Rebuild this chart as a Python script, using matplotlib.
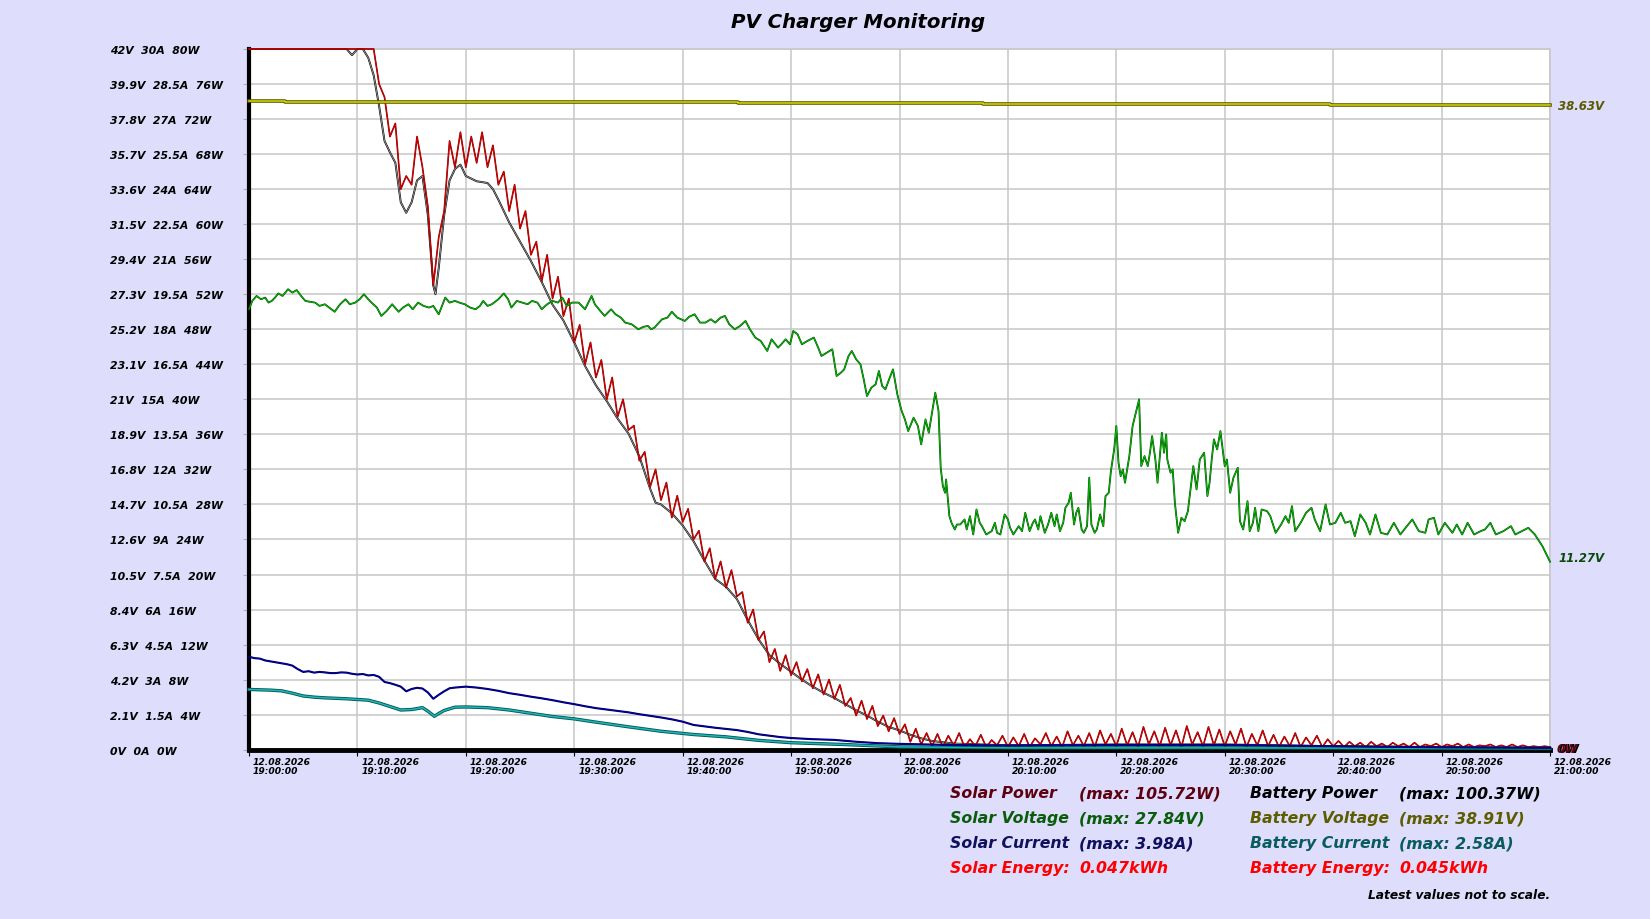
import numpy as np
import matplotlib
matplotlib.use("Agg")
import matplotlib.pyplot as plt
import matplotlib.patheffects as pe
from matplotlib.transforms import ScaledTranslation

BG = "#dedefc"

# ---- data, minutes after 19:00 ----
t_spow = np.arange(0, 120.5, 0.5)
solar_power = [
    80, 80, 80, 80, 80, 80, 80, 80, 80, 80,
    80, 80, 80, 80, 80, 80, 80, 80, 80, 80,
    80, 80, 80, 80, 76, 74.5, 70, 71.5, 64, 65.5,
    64.5, 70, 66.5, 62, 53, 58.5, 61.5, 69.5, 66.5, 70.5,
    66.5, 70, 67, 70.5, 66.5, 69, 64.5, 66, 61.5, 64.5,
    59.5, 61.5, 56.5, 58, 53.5, 56.5, 51.5, 54, 49.5, 51.5,
    46.5, 48.5, 44, 46.5, 42.5, 44.5, 40, 42.5, 38, 40,
    36.5, 37, 33, 34, 30, 32, 28.5, 30.5, 26.5, 29,
    26, 27.5, 24, 25, 21.5, 23, 19.5, 21.5, 18.5, 20.5,
    17.5, 18, 14.5, 16, 12.5, 13.5, 10, 11.5, 9, 10.8,
    8.5, 10, 7.8, 9.2, 7, 8.6, 6.3, 8, 5.8, 7.4,
    5, 5.9, 3.9, 5.6, 3.5, 5, 2.7, 3.9, 2.1, 3.6,
    1.8, 2.9, 0.9, 2.4, 0.6, 1.9, 0.4, 1.8, 0.3, 1.6,
    0.5, 1.9, 0.3, 1.2, 0.4, 1.7, 0.3, 1.1, 0.5, 1.6,
    0.3, 1.4, 0.4, 1.8, 0.3, 1.3, 0.6, 1.9, 0.4, 1.5,
    0.3, 2.1, 0.5, 1.6, 0.4, 1.9, 0.3, 2.2, 0.6, 1.8,
    0.4, 2.4, 0.5, 2.0, 0.3, 2.6, 0.6, 2.1, 0.4, 2.5,
    0.5, 2.2, 0.3, 2.7, 0.6, 2.0, 0.4, 2.6, 0.5, 2.3,
    0.4, 2.1, 0.6, 2.4, 0.3, 1.8, 0.5, 2.2, 0.4, 1.7,
    0.3, 1.5, 0.4, 1.9, 0.3, 1.4, 0.5, 1.6, 0.3, 1.2,
    0.4, 1.0, 0.3, 0.9, 0.4, 0.8, 0.3, 0.9, 0.4, 0.7,
    0.3, 0.8, 0.4, 0.7, 0.3, 0.8, 0.3, 0.6, 0.4, 0.7,
    0.3, 0.6, 0.4, 0.7, 0.3, 0.6, 0.3, 0.5, 0.4, 0.6,
    0.3, 0.5, 0.3, 0.6, 0.3, 0.5, 0.3, 0.4, 0.3, 0.4,
    0.3,
]

t_bpow = [0, 9, 9.5, 10, 10.5, 11, 11.5, 12, 12.5, 13, 13.5, 14, 14.5, 15, 15.5,
          16, 16.5, 17, 17.2, 17.5, 18, 18.5, 19, 19.5, 20, 21, 22, 22.5, 23, 24,
          25, 26, 27, 28, 29, 30, 31, 32, 33, 34, 35, 36, 37, 37.5, 38, 39, 40,
          41, 42, 43, 44, 45, 46, 47, 48, 49, 50, 51, 52, 53, 54, 55, 56, 57, 58,
          59, 60, 61, 62, 63, 65, 70, 80, 90, 100, 110, 120]
battery_power = [80, 80, 79.3, 80, 80, 79, 77, 73.5, 69.5, 68.2, 67, 62.5, 61.3, 62.5, 65,
                 65.5, 61, 53, 52, 55, 61, 65, 66.3, 66.8, 65.5, 64.9, 64.7, 64, 62.8, 60.2,
                 58, 55.8, 53.4, 50.8, 49, 46.5, 43.8, 41.6, 39.8, 37.8, 36.1, 33.5, 29.8, 28.2, 28, 27, 25.6,
                 23.8, 21.6, 19.5, 18.6, 17.2, 14.8, 12.6, 10.8, 9.8, 8.9, 8.0, 7.2, 6.5, 5.9, 5.2, 4.5, 3.9, 3.2,
                 2.6, 2.2, 1.7, 1.3, 1.0, 0.7, 0.5, 0.6, 0.6, 0.4, 0.3, 0.2]

t_svolt = [0, 0.3, 0.7, 1.1, 1.5, 1.8, 2.1, 2.4, 2.7, 3.1, 3.6, 4.0, 4.4, 4.8, 5.2, 5.6, 6.1, 6.5,
           7.0, 7.4, 7.9, 8.4, 8.9, 9.3, 9.8, 10.2, 10.6, 11.0, 11.3, 11.8, 12.2, 12.7, 13.2, 13.8,
           14.2, 14.7, 15.1, 15.6, 16.1, 16.6, 17.0, 17.5, 18.1, 18.5, 19.0, 19.4, 19.9, 20.4, 20.9,
           21.3, 21.6, 22.0, 22.4, 23.0, 23.5, 23.9, 24.2, 24.7, 25.2, 25.7, 26.1, 26.6, 27.0, 27.5,
           28.0, 28.5, 28.9, 29.3, 29.8, 30.4, 31.0, 31.6, 31.9, 32.4, 32.8, 33.4, 33.8, 34.3, 34.7,
           35.3, 35.9, 36.4, 36.8, 37.1, 37.4, 38.1, 38.6, 39.0, 39.5, 40.2, 40.6, 41.1, 41.6, 42.1,
           42.6, 43.0, 43.5, 43.9, 44.3, 44.8, 45.3, 45.8, 46.2, 46.7, 47.2, 47.8, 48.2, 48.8, 49.1,
           49.5, 49.9, 50.2, 50.6, 51.0, 51.5, 52.1, 52.5, 52.8, 53.3, 53.8, 54.2, 54.6, 54.9, 55.3,
           55.6, 56.0, 56.4, 56.7, 57.0, 57.4, 57.8, 58.1, 58.4, 58.7, 59.1, 59.4, 59.8, 60.2, 60.5,
           60.8, 61.3, 61.7, 62.0, 62.4, 62.7, 63.0, 63.3, 63.6, 63.8, 64.0, 64.2, 64.3, 64.6, 64.8,
           65.1, 65.3, 65.6, 66.0, 66.2, 66.5, 66.8, 67.1, 67.4, 67.6, 68.0, 68.5, 68.8, 69.0, 69.3,
           69.7, 70.0, 70.2, 70.5, 71.0, 71.3, 71.6, 72.0, 72.3, 72.5, 72.8, 73.0, 73.4, 73.7, 74.0,
           74.3, 74.5, 74.8, 75.1, 75.3, 75.6, 75.8, 76.1, 76.3, 76.5, 76.8, 77.0, 77.3, 77.5, 77.7,
           78.0, 78.2, 78.5, 78.8, 79.0, 79.3, 79.5, 79.8, 80.0, 80.2, 80.4, 80.6, 80.8, 81.2, 81.5,
           81.8, 82.1, 82.3, 82.6, 82.9, 83.1, 83.3, 83.6, 83.8, 84.0, 84.2, 84.4, 84.6, 84.7, 85.0,
           85.2, 85.4, 85.7, 86.0, 86.3, 86.6, 86.8, 87.1, 87.4, 87.7, 88.1, 88.4, 88.6, 88.8, 89.0,
           89.3, 89.6, 90.0, 90.2, 90.5, 90.8, 91.0, 91.2, 91.4, 91.7, 92.1, 92.3, 92.6, 92.8, 93.1,
           93.4, 93.9, 94.2, 94.7, 95.2, 95.6, 95.9, 96.2, 96.5, 97.0, 97.5, 98.0, 98.3, 98.8, 99.3,
           99.7, 100.2, 100.7, 101.1, 101.6, 102.0, 102.5, 103.0, 103.4, 103.9, 104.4, 105.0, 105.6,
           106.2, 106.8, 107.3, 107.9, 108.5, 108.8, 109.3, 109.7, 110.3, 111.0, 111.4, 111.9, 112.4,
           113.0, 113.6, 114.0, 114.5, 115.0, 115.7, 116.4, 116.8, 117.4, 118.0, 118.6, 119.3, 120.0]
solar_voltage = [26.4, 26.9, 27.2, 27.0, 27.1, 26.8, 26.9, 27.1, 27.35, 27.2, 27.6, 27.4, 27.55, 27.2, 26.9, 26.85, 26.8, 26.6,
                 26.7, 26.5, 26.25, 26.7, 27.0, 26.7, 26.8, 27.0, 27.3, 27.0, 26.8, 26.5, 26.0, 26.3, 26.7, 26.25,
                 26.5, 26.7, 26.4, 26.8, 26.6, 26.5, 26.6, 26.1, 27.1, 26.8, 26.9, 26.8, 26.7, 26.5, 26.4,
                 26.6, 26.9, 26.6, 26.7, 27.0, 27.35, 27.0, 26.5, 26.9, 26.8, 26.7, 26.9, 26.8, 26.4, 26.7,
                 26.9, 26.8, 27.1, 26.6, 26.8, 26.8, 26.4, 27.2, 26.7, 26.3, 26.0, 26.4, 26.1, 25.9, 25.6,
                 25.5, 25.2, 25.35, 25.4, 25.2, 25.3, 25.8, 25.9, 26.25, 25.9, 25.7, 25.95, 26.1, 25.6, 25.6,
                 25.8, 25.6, 25.9, 26.0, 25.5, 25.2, 25.4, 25.7, 25.2, 24.7, 24.5, 23.9, 24.6, 24.1, 24.3,
                 24.6, 24.3, 25.1, 24.9, 24.3, 24.5, 24.7, 24.1, 23.6, 23.8, 24.0, 22.4, 22.6, 22.8, 23.6,
                 23.9, 23.4, 23.1, 22.2, 21.2, 21.7, 21.9, 22.7, 21.8, 21.6, 22.3, 22.8, 21.3, 20.3, 19.8,
                 19.1, 19.9, 19.4, 18.3, 19.8, 19.0, 20.2, 21.4, 20.3, 16.9, 15.8, 15.4, 16.2, 14.0, 13.6,
                 13.2, 13.5, 13.5, 13.8, 13.2, 14.0, 12.9, 14.4, 13.6, 13.4, 12.9, 13.1, 13.6, 13.0, 12.9,
                 14.1, 13.8, 13.3, 12.9, 13.4, 13.1, 14.2, 13.1, 13.6, 13.8, 13.2, 14.0, 13.0, 13.5, 14.2,
                 13.4, 14.1, 13.1, 13.6, 14.5, 14.8, 15.4, 13.5, 14.2, 14.5, 13.2, 13.0, 13.4, 16.3, 13.5,
                 13.0, 13.2, 14.1, 13.4, 15.2, 15.4, 16.7, 18.0, 19.4, 17.2, 16.4, 16.8, 16.0, 17.6, 19.4,
                 20.2, 21.0, 17.0, 17.6, 17.0, 17.8, 18.8, 17.4, 16.0, 17.5, 19.0, 17.8, 18.9, 17.4, 16.6,
                 16.8, 14.8, 13.0, 13.9, 13.7, 14.3, 15.4, 17.0, 15.6, 17.4, 17.8, 15.2, 16.0, 17.4, 18.6,
                 18.0, 19.1, 17.0, 17.4, 15.4, 16.3, 16.6, 16.9, 13.7, 13.2, 14.9, 13.1, 13.6, 14.5, 13.1,
                 14.4, 14.3, 14.0, 13.0, 13.5, 14.0, 13.6, 14.6, 13.1, 13.6, 14.2, 14.5, 13.8, 13.1, 14.7,
                 13.5, 13.6, 14.2, 13.6, 13.7, 12.8, 14.1, 13.6, 12.9, 14.1, 13.0, 12.9, 13.6,
                 12.9, 13.4, 13.8, 13.1, 13.0, 13.8, 13.9, 12.9, 13.6, 13.0, 13.5, 12.9, 13.6,
                 12.9, 13.1, 13.2, 13.6, 12.9, 13.1, 13.4, 12.9, 13.1, 13.3, 12.9, 12.2, 11.27]

t_bvolt = [0, 3.3, 27.4, 45.1, 67.7, 99.7, 120]
battery_voltage = [38.91, 38.85, 38.80, 38.76, 38.70, 38.63, 38.63]

t_scur = [0, 0.5, 1, 1.5, 2, 2.5, 3, 3.5, 4, 4.5, 5, 5.5, 6, 6.5, 7, 7.5, 8, 8.5, 9, 9.5, 10, 10.5,
          11, 11.5, 12, 12.5, 13, 13.5, 14, 14.5, 15, 15.5, 16, 16.5, 17, 17.5, 18, 18.5, 19, 19.5,
          20, 21, 22, 23, 24, 25, 26, 27, 28, 29, 30, 31,
          32, 33, 34, 35, 36, 37, 38, 39, 40, 41, 42, 43, 44, 45, 46, 47, 48, 49, 50, 52, 54,
          56, 58, 60, 65, 70, 80, 90, 100, 110, 120]
solar_current = [3.98, 3.92, 3.9, 3.82, 3.78, 3.74, 3.7, 3.66, 3.6, 3.45, 3.33, 3.36, 3.3, 3.33, 3.31, 3.28, 3.28, 3.31, 3.3, 3.25, 3.22, 3.24,
                 3.18, 3.2, 3.12, 2.9, 2.85, 2.78, 2.7, 2.5, 2.6, 2.65,
                 2.62, 2.45, 2.18, 2.35, 2.5, 2.63, 2.66, 2.68,
                 2.7, 2.66, 2.6, 2.52, 2.42, 2.35, 2.27, 2.2, 2.12, 2.03, 1.95, 1.86,
                 1.78, 1.72, 1.66, 1.6, 1.52, 1.45, 1.38, 1.3, 1.2, 1.06, 1.0, 0.94, 0.89, 0.84, 0.76, 0.66, 0.6, 0.54, 0.5, 0.45, 0.42,
                 0.34, 0.28, 0.25, 0.2, 0.18, 0.2, 0.2, 0.15, 0.1, 0.08]

t_bcur = [0, 2, 3, 4, 5, 6, 7, 9, 11, 12, 13, 14, 15, 16, 16.5, 17.1, 17.5, 18, 19, 20, 22, 24,
          26, 28, 30, 32, 35, 38, 41, 44, 47, 50, 55, 60, 70, 90, 120]
battery_current = [2.58, 2.55, 2.52, 2.42, 2.3, 2.25, 2.22, 2.18, 2.12, 2.0, 1.85, 1.7, 1.72, 1.8, 1.65, 1.43, 1.55, 1.68, 1.82, 1.83, 1.8, 1.7,
                   1.56, 1.42, 1.32, 1.18, 0.98, 0.79, 0.65, 0.55, 0.4, 0.3, 0.22, 0.12, 0.08, 0.08, 0.05]

# axis ticks
watt_ticks = [0, 4, 8, 12, 16, 20, 24, 28, 32, 36, 40, 44, 48, 52, 56, 60, 64, 68, 72, 76, 80]
volt_ticks = [0, 2.1, 4.2, 6.3, 8.4, 10.5, 12.6, 14.7, 16.8, 18.9, 21, 23.1, 25.2, 27.3, 29.4, 31.5, 33.6, 35.7, 37.8, 39.9, 42]
amp_ticks = [0, 1.5, 3, 4.5, 6, 7.5, 9, 10.5, 12, 13.5, 15, 16.5, 18, 19.5, 21, 22.5, 24, 25.5, 27, 28.5, 30]
time_ticks = [0, 10, 20, 30, 40, 50, 60, 70, 80, 90, 100, 110, 120]
time_labels = ["19:00:00", "19:10:00", "19:20:00", "19:30:00", "19:40:00", "19:50:00", "20:00:00",
               "20:10:00", "20:20:00", "20:30:00", "20:40:00", "20:50:00", "21:00:00"]
date_label = "12.08.2026"

# legend
legend_left = [("Solar Power", "(max: 105.72W)", "#5c0010"),
               ("Solar Voltage", "(max: 27.84V)", "#0a5c0a"),
               ("Solar Current", "(max: 3.98A)", "#10105c"),
               ("Solar Energy:", "0.047kWh", "#ff0000")]
legend_right = [("Battery Power", "(max: 100.37W)", "#000000"),
                ("Battery Voltage", "(max: 38.91V)", "#5c5c00"),
                ("Battery Current", "(max: 2.58A)", "#0a5c5c"),
                ("Battery Energy:", "0.045kWh", "#ff0000")]

fig = plt.figure(figsize=(16.5, 9.2), dpi=100, facecolor=BG)
ax = fig.add_axes([249 / 1650, 1 - 750.7 / 920, 1301 / 1650, 700.7 / 920])
axv = ax.twinx()
axa = ax.twinx()

ax.set_xlim(0, 120)
ax.set_ylim(0, 80)
axv.set_ylim(0, 42)
axa.set_ylim(0, 30)
ax.set_facecolor("white")

for a in (axv, axa):
    a.set_frame_on(False)
    a.set_yticks([])
    a.tick_params(right=False, labelright=False)

ax.grid(True, color="#c6c6c6", linewidth=1.1)
ax.set_axisbelow(True)
for s in ("top", "right"):
    ax.spines[s].set_color("#c6c6c6")
    ax.spines[s].set_linewidth(1.1)
ax.spines["left"].set_linewidth(3)
ax.spines["bottom"].set_linewidth(3.5)

tfont = dict(fontsize=7.8, fontweight="bold", fontstyle="italic")
ylabels = [f"{v:g}V  {a:g}A  {w:g}W" for v, a, w in zip(volt_ticks, amp_ticks, watt_ticks)]
ax.set_yticks(watt_ticks)
ax.set_yticklabels(ylabels, **tfont)
ax.tick_params(axis="y", length=4, color="#b0b0b0", pad=96)
for lbl in ax.get_yticklabels():
    lbl.set_horizontalalignment("left")

ax.set_xticks(time_ticks)
ax.set_xticklabels([date_label + "\n" + t for t in time_labels], fontsize=6.6,
                   fontweight="bold", fontstyle="italic", linespacing=1.05)
ax.tick_params(axis="x", length=4, color="black", pad=1)
shift = ScaledTranslation(4 / 100, 0, fig.dpi_scale_trans)
for lbl in ax.get_xticklabels():
    lbl.set_horizontalalignment("left")
    lbl.set_transform(lbl.get_transform() + shift)


def edge(w, c):
    return [pe.Stroke(linewidth=w, foreground=c), pe.Normal()]


axa.plot(t_bcur, battery_current, color="#22b4b4", lw=1.1, path_effects=edge(2.4, "#005a5a"), clip_on=False)
axa.plot(t_scur, solar_current, color="#0000b4", lw=0.7, path_effects=edge(1.5, "#000050"), clip_on=False)
axv.plot(t_bvolt, battery_voltage, color="#d8d800", lw=1.1, drawstyle="steps-post",
         path_effects=edge(2.6, "#5a5a00"), clip_on=False)
axv.plot(t_svolt, solar_voltage, color="#00c800", lw=0.6, path_effects=edge(1.3, "#004800"), clip_on=False)
ax.plot(t_bpow, battery_power, color="#c8c8c8", lw=0.4, path_effects=edge(1.4, "#101010"), clip_on=False, zorder=3)
ax.plot(t_spow, solar_power, color="#e00000", lw=0.6, path_effects=edge(1.2, "#800000"), clip_on=False, zorder=4)

# latest values (not to scale)
lfont = dict(fontsize=8.5, fontweight="bold", fontstyle="italic", va="center", ha="left",
             annotation_clip=False, textcoords="offset points")
axv.annotate(f"{battery_voltage[-1]:.2f}V", (120, battery_voltage[-1]), xytext=(6, 0), color="#5a5a00", **lfont)
axv.annotate(f"{solar_voltage[-1]:.2f}V", (120, solar_voltage[-1]), xytext=(6, 3), color="#0a4a0a", **lfont)
ax.annotate("0W", (120, 0), xytext=(6, 1), color="#000000", **lfont)
ax.annotate("0W", (120, 0), xytext=(5, 1), color="#5c0010", **lfont)

fig.text(0.52, 0.976, "PV Charger Monitoring", ha="center", va="center",
         fontsize=14.2, fontweight="bold", fontstyle="italic")

gfont = dict(fontsize=11.3, fontweight="bold", fontstyle="italic", va="center", ha="left")
rows_y = [1 - 794 / 920, 1 - 819 / 920, 1 - 844 / 920, 1 - 869 / 920]
for (name, val, col), y in zip(legend_left, rows_y):
    fig.text(950 / 1650, y, name, color=col, **gfont)
    fig.text(1079 / 1650, y, val, color=col, **gfont)
for (name, val, col), y in zip(legend_right, rows_y):
    fig.text(1250 / 1650, y, name, color=col, **gfont)
    fig.text(1399 / 1650, y, val, color=col, **gfont)
fig.text(1550 / 1650, 1 - 896 / 920, "Latest values not to scale.", ha="right", va="center",
         fontsize=8.8, fontweight="bold", fontstyle="italic")

fig.savefig("out.png", dpi=100, facecolor=BG)
